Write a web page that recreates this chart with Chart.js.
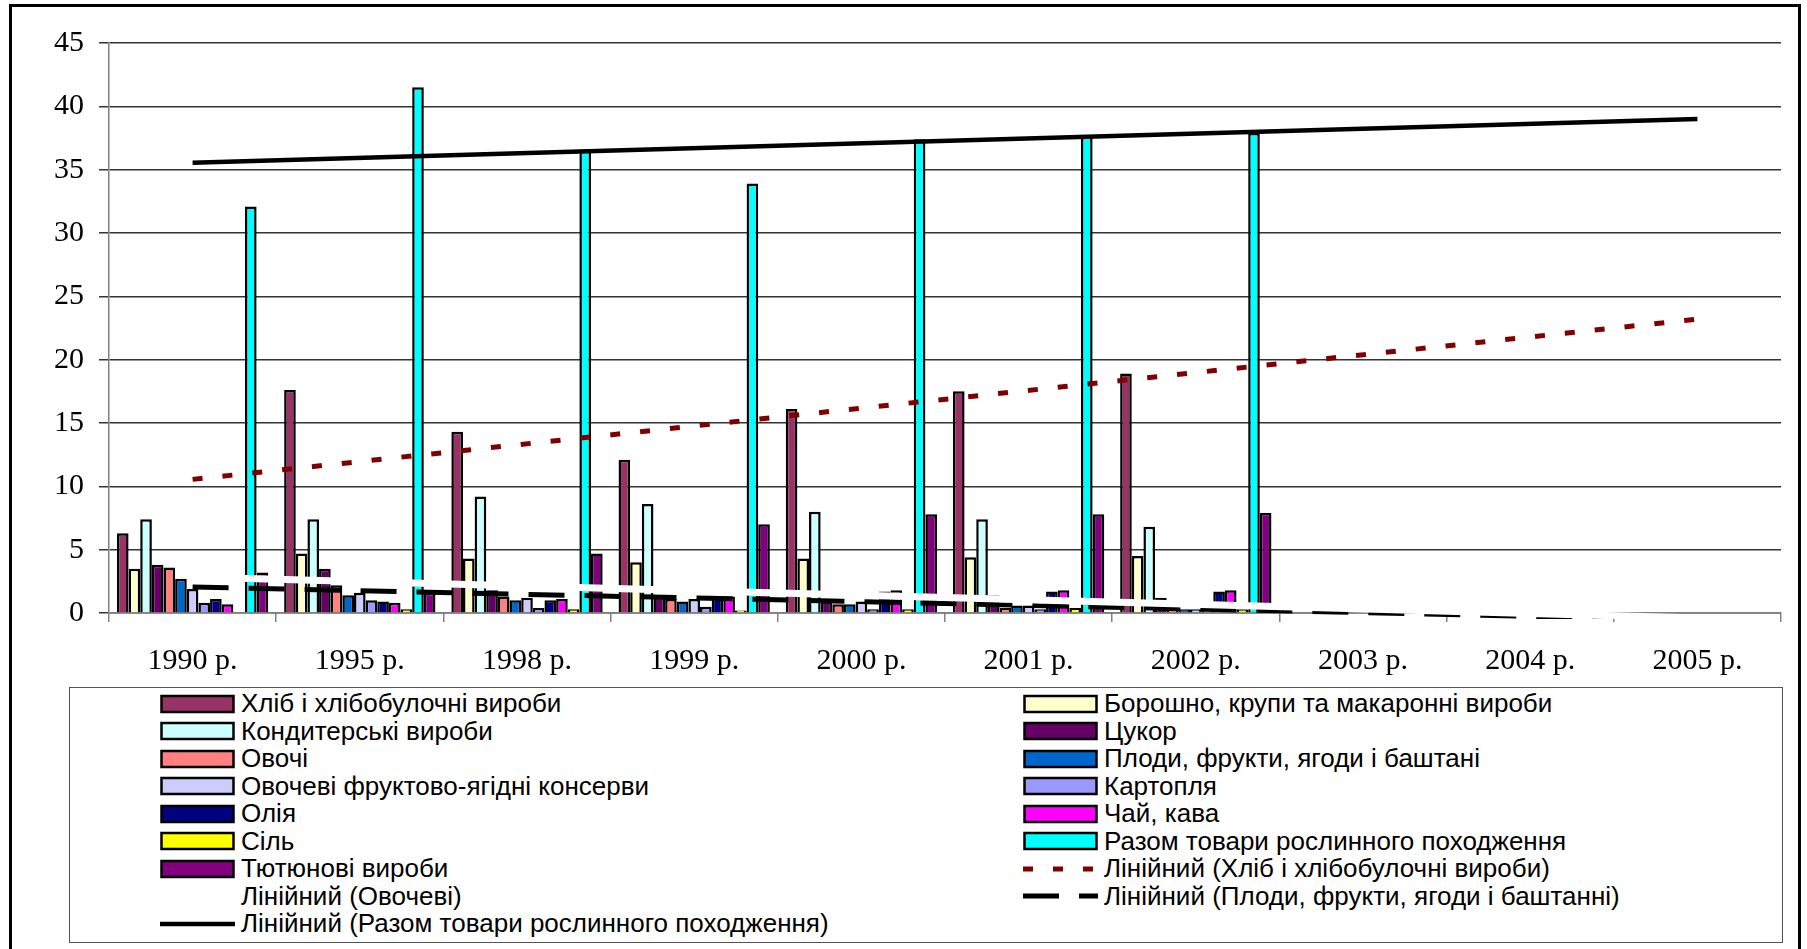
<!DOCTYPE html>
<html>
<head>
<meta charset="utf-8">
<script src="https://cdn.jsdelivr.net/npm/chart.js@4/dist/chart.umd.min.js"></script>
<style>
  html, body { margin: 0; padding: 0; background: #fff; }
  #page { position: relative; width: 1807px; height: 949px; overflow: hidden; background: #fff; }
  #frame { position: absolute; left: 9px; top: 4px; width: 1792px; height: 960px; border: 3px solid #000; box-sizing: border-box; }
  #chart { position: absolute; left: 0; top: 0; }
  #legend { position: absolute; left: 69px; top: 687px; width: 1714px; height: 256px; border: 1.5px solid #555; box-sizing: border-box; background: #fff; }
  .item { position: absolute; height: 27.5px; display: flex; align-items: center; font-family: "Liberation Sans", Arial, sans-serif; font-size: 26px; color: #000; white-space: nowrap; }
  .item canvas { margin-right: 6px; }
</style>
</head>
<body>
<div id="page">
  <div id="frame"></div>
  <canvas id="chart" width="1807" height="690"></canvas>
  <div id="legend"></div>
</div>
<script>
// categories (years)
const years = ["1990 р.", "1995 р.", "1998 р.", "1999 р.", "2000 р.", "2001 р.", "2002 р.", "2003 р.", "2004 р.", "2005 р."];

// bar series, values (1990..2002)
const khlib     = [6.3, 17.6, 14.3, 12.1, 16.1, 17.5, 18.9];
const boroshno  = [3.5, 4.7, 4.3, 4.0, 4.3, 4.4, 4.5];
const kondyt    = [7.4, 7.4, 9.2, 8.6, 8.0, 7.4, 6.8];
const tsukor    = [3.8, 3.5, 1.8, 1.3, 0.9, 1.4, 1.2];
const ovochi    = [3.6, 2.2, 1.3, 1.1, 0.7, 0.4, 0.3];
const plody     = [2.7, 1.4, 1.0, 0.9, 0.7, 0.6, 0.3];
const konservy  = [1.9, 1.6, 1.2, 1.1, 0.9, 0.6, 0.3];
const kartoplia = [0.8, 1.0, 0.4, 0.5, 0.3, 0.3, 0.2];
const oliia     = [1.1, 0.9, 1.0, 1.2, 1.7, 1.7, 1.7];
const chai      = [0.7, 0.8, 1.1, 1.3, 1.8, 1.8, 1.8];
const sil       = [0.0, 0.3, 0.3, 0.2, 0.3, 0.4, 0.3];
const razom     = [32.1, 41.5, 36.6, 33.9, 37.4, 37.6, 37.9];
const tiutiun   = [3.2, 1.6, 4.7, 7.0, 7.8, 7.8, 7.9];

// linear trend lines: value at 1990 and at 2005
const trendKhlib  = [10.55, 23.2];
const trendOvochi = [2.85, -0.4];
const trendPlody  = [2.05, -0.55];
const trendRazom  = [35.55, 39.0];

const bar = (label, data, color) => ({
  type: "bar", label, data, backgroundColor: color,
  borderColor: "#000", borderWidth: 2.5, order: 1
});
const trend = (label, ends, color, width, dash) => ({
  type: "line", label, order: 0,
  data: [{ x: years[0], y: ends[0] }, { x: years[years.length - 1], y: ends[1] }],
  borderColor: color, borderWidth: width, borderDash: dash,
  pointRadius: 0, fill: false, clip: 6
});

const datasets = [
  bar("Хліб і хлібобулочні вироби", khlib, "#993366"),
  bar("Борошно, крупи та макаронні вироби", boroshno, "#FFFFCC"),
  bar("Кондитерські вироби", kondyt, "#CCFFFF"),
  bar("Цукор", tsukor, "#660066"),
  bar("Овочі", ovochi, "#FF8080"),
  bar("Плоди, фрукти, ягоди і баштані", plody, "#0066CC"),
  bar("Овочеві фруктово-ягідні консерви", konservy, "#CCCCFF"),
  bar("Картопля", kartoplia, "#9999FF"),
  bar("Олія", oliia, "#000080"),
  bar("Чай, кава", chai, "#FF00FF"),
  bar("Сіль", sil, "#FFFF00"),
  bar("Разом товари рослинного походження", razom, "#00FFFF"),
  bar("Тютюнові вироби", tiutiun, "#800080"),
  trend("Лінійний (Хліб і хлібобулочні вироби)", trendKhlib, "#800000", 5, [10, 20]),
  trend("Лінійний (Овочеві)", trendOvochi, "#FFFFFF", 7, []),
  trend("Лінійний (Плоди, фрукти, ягоди і баштанні)", trendPlody, "#000", 5, [36, 20]),
  trend("Лінійний (Разом товари рослинного походження)", trendRazom, "#000", 4.5, [])
];

const chart = new Chart(document.getElementById("chart"), {
  data: { labels: years, datasets },
  options: {
    responsive: false,
    animation: false,
    layout: { padding: { top: 43, right: 26, bottom: 0, left: 0 } },
    datasets: { bar: { categoryPercentage: 0.905, barPercentage: 1.0 } },
    plugins: { legend: { display: false }, tooltip: { enabled: false } },
    scales: {
      x: {
        offset: true,
        grid: { display: true, drawOnChartArea: false, drawTicks: true, tickLength: 9, offset: true, color: "#808080", lineWidth: 1.5 },
        border: { color: "#808080", width: 1.5 },
        ticks: { color: "#000", padding: 21, font: { family: "'Liberation Serif', 'Times New Roman', serif", size: 30 } },
        afterFit: (s) => { s.height = 77; }
      },
      y: {
        min: 0, max: 45,
        ticks: { stepSize: 5, color: "#000", padding: 15, font: { family: "'Liberation Serif', 'Times New Roman', serif", size: 30 } },
        grid: { color: "#333333", lineWidth: 1.5, tickLength: 10 },
        border: { color: "#808080", width: 1.5 },
        afterFit: (s) => { s.width = 109; }
      }
    }
  }
});

// legend: two columns, row-major, like the original
const legend = document.getElementById("legend");
chart.data.datasets.forEach((ds, i) => {
  const col = i % 2, row = Math.floor(i / 2);
  const item = document.createElement("div");
  item.className = "item";
  item.style.left = (col ? 1022 - 69 : 159 - 69) + "px";
  item.style.top = (2 + row * 27.5) + "px";
  const sw = document.createElement("canvas");
  sw.width = 75; sw.height = 20;
  const c = sw.getContext("2d");
  if (ds.type === "bar") {
    c.fillStyle = ds.backgroundColor;
    c.fillRect(1.5, 2, 72, 16);
    c.strokeStyle = "#000"; c.lineWidth = 2.5;
    c.strokeRect(1.5, 2, 72, 16);
  } else {
    c.strokeStyle = ds.borderColor; c.lineWidth = ds.borderWidth;
    c.setLineDash(ds.borderDash);
    c.beginPath(); c.moveTo(0, 10); c.lineTo(75, 10); c.stroke();
  }
  item.appendChild(sw);
  const t = document.createElement("span");
  t.textContent = ds.label;
  item.appendChild(t);
  legend.appendChild(item);
});
</script>
</body>
</html>
